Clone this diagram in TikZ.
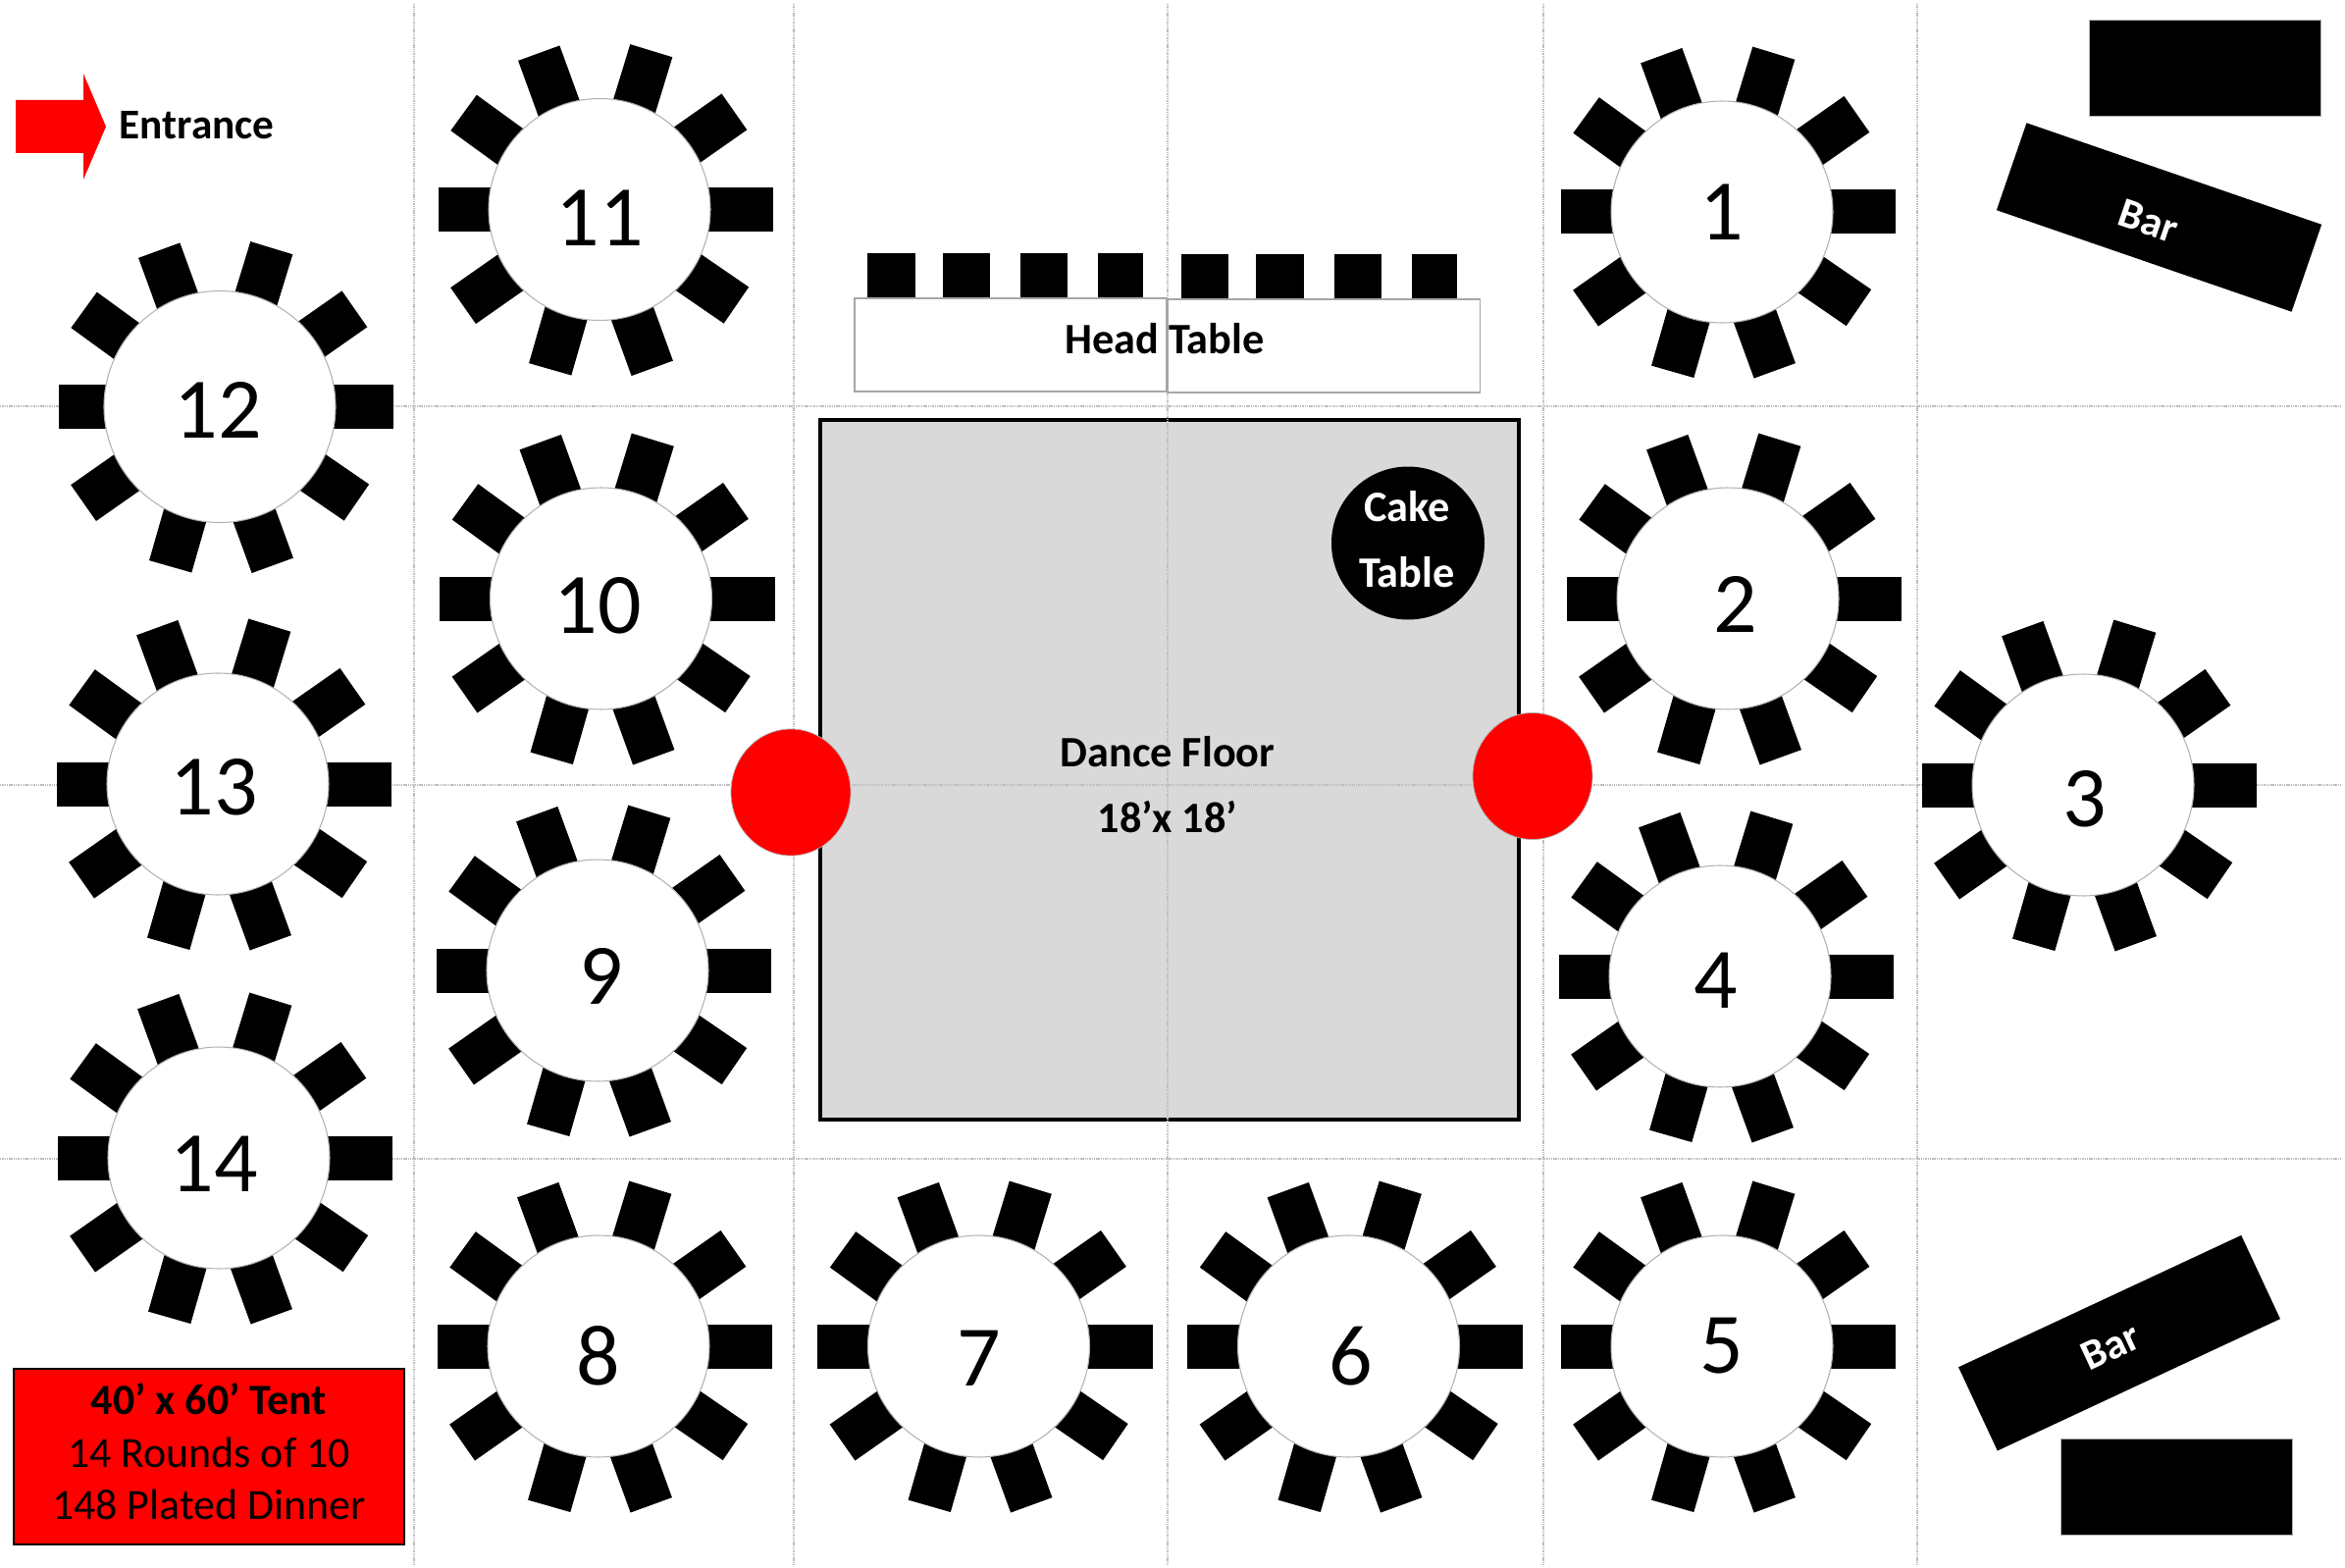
\documentclass[tikz,border=0pt]{standalone}
\usepackage{fontspec}
\setmainfont{Carlito}
\usepackage{xcolor}
\usetikzlibrary{shapes.geometric,positioning}
\definecolor{floorgray}{HTML}{D9D9D9}
\definecolor{gridgray}{HTML}{BEBEBE}

\begin{document}
\begin{tikzpicture}[
    x=0.1mm, y=-0.1mm,
    gridline/.style={draw=gridgray, line width=0.3pt, dash pattern=on 0.4pt off 0.25pt},
    chair/.style={rectangle, fill=black, inner sep=0pt, minimum width=7mm, minimum height=4.5mm, anchor=east},
    roundtable/.style={circle, draw=gray!60, line width=0.3pt, fill=white, inner sep=0pt},
    tablenum/.style={inner sep=0pt, font=\fontsize{25}{25}\selectfont},
    headchair/.style={rectangle, fill=black, inner sep=0pt, minimum height=4.5mm, anchor=south},
    headside/.style={rectangle, draw=gray!70, line width=0.4pt, fill=white, inner sep=0pt, minimum width=31.8mm, minimum height=9.5mm},
    lbl/.style={inner sep=0pt, font=\fontsize{12.6}{14}\selectfont\bfseries},
    dancefloor/.style={rectangle, draw=black, line width=0.9pt, fill=floorgray, inner sep=0pt, minimum width=71.2mm, minimum height=71.3mm},
    redspot/.style={ellipse, fill=red, draw=gray!60, line width=0.2pt, inner sep=0pt, minimum width=12.2mm, minimum height=12.9mm},
    bar/.style={rectangle, fill=black, inner sep=0pt, minimum width=31.8mm, minimum height=9.4mm},
    barlbl/.style={inner sep=0pt, text=white, font=\fontsize{12.3}{14}\selectfont\bfseries},
    plainbar/.style={rectangle, fill=black, draw=gray!60, line width=0.2pt, inner sep=0pt, minimum width=23.6mm, minimum height=9.8mm},
    infoline/.style={inner sep=0pt, font=\fontsize{12.5}{15}\selectfont}
]
    \useasboundingbox (0,0) rectangle (2390,1598);

    \node[dancefloor] (floor) at (1192,784.5) {};

    \foreach \gx in {422,809,1190,1573,1954}
        \draw[gridline] (\gx,4) -- (\gx,1596);
    \foreach \gy in {414,800,1181}
        \draw[gridline] (0,\gy) -- (2385,\gy);

    \node[headside] (headleft) at (1030,351.5) {};
    \node[headside] (headright) at (1349.5,352.5) {};
    \foreach \i/\hx/\hw/\hy in {1/908.5/4.9/304,2/985/4.8/304,3/1064/4.8/304,4/1142/4.6/304,5/1228/4.8/305,6/1304.5/4.9/305,7/1384/4.8/305,8/1462/4.6/305}
        \node[headchair, minimum width=\hw mm] (hc\i) at (\hx,\hy) {};
    \node[lbl] (headlabel) at (1187,345.5) {Head Table};

    \foreach \t/\cx/\cy/\r/\tx/\ty in {
        1/1755/216/113/0/0, 2/1761/610/113/8/6, 3/2123/800/113/2/14, 4/1753/995/113/-4/4, 5/1755/1372/113/0/0,
        6/1374.5/1372/113/2/10, 7/997.5/1372/113/0/12, 8/610/1372/113/0/10, 9/609/989/113/4/6, 10/612.5/610/113/-3.5/7,
        11/611/213.5/113/0/9, 12/224/414.5/118/-1.5/3, 13/222/799/113/-4/3, 14/223/1180/113/-4.5/6}{
        \foreach \i/\dx/\dy/\a in {
            1/178/0/0, 2/138/-100/35, 3/53/-162.5/73, 4/-62/-160/110, 5/-139/-99/144,
            6/-165/0/180, 7/-139.5/98.5/215, 8/-50.5/163.5/254, 9/54/162.5/290, 10/140/98/325.5}
            \node[chair, rotate=\a] (c\t-\i) at (\cx+\dx,\cy+\dy) {};
        \node[roundtable, minimum size=2*\r*0.1mm] (t\t) at (\cx,\cy) {};
        \node[tablenum] (n\t) at (\cx+\tx,\cy+\ty) {\t};
    }

    \node[circle, fill=black, inner sep=0pt, minimum size=15.6mm] (cake) at (1435,553.5) {};
    \node[lbl, text=white, align=center] (cakelabel) at (1434,549.5) {Cake\\[4.9pt]Table};

    \node[lbl] (dancelabel) at (1190,766) {Dance Floor};
    \node[lbl] (sizelabel) at (1190,832.5) {18’x 18’};

    \node[redspot] (spotleft) at (806,807.5) {};
    \node[redspot] (spotright) at (1562,791) {};

    \node[plainbar] (barbacktop) at (2247,69) {};
    \node[bar, rotate=-19] (bartop) at (2200.5,221.5) {};
    \node[barlbl, rotate=-19] (bartoplabel) at (2189.7,225) {Bar};
    \node[plainbar] (barbackbot) at (2218,1515.5) {};
    \node[bar, rotate=25] (barbot) at (2160,1368.7) {};
    \node[barlbl, rotate=25] (barbotlabel) at (2151,1372) {Bar};

    \fill[red] (16,102) -- (85,102) -- (85,75) -- (108,129) -- (85,183) -- (85,156) -- (16,156) -- cycle;
    \node[lbl, anchor=west, font=\fontsize{12.3}{14}\selectfont\bfseries] (entrance) at (121,128) {Entrance};

    \node[rectangle, draw=black, line width=0.6pt, fill=red, inner sep=0pt, minimum width=39.8mm, minimum height=17.9mm] (infobox) at (213,1484.5) {};
    \node[infoline, font=\fontsize{12.5}{15}\selectfont\bfseries] (infotop) at (213,1426) {40’ x 60’ Tent};
    \node[infoline] (infomid) at (213,1480) {14 Rounds of 10};
    \node[infoline] (infobot) at (213,1533) {148 Plated Dinner};
\end{tikzpicture}
\end{document}
